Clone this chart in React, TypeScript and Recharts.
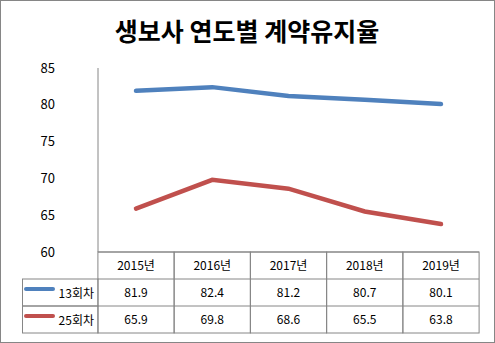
import { LineChart, Line, XAxis, YAxis } from 'recharts';

const years = ['2015년', '2016년', '2017년', '2018년', '2019년'];
const round13 = [81.9, 82.4, 81.2, 80.7, 80.1];
const round25 = [65.9, 69.8, 68.6, 65.5, 63.8];
const yTicks = [60, 65, 70, 75, 80, 85];

const seriesList = [
  { key: 'r13', name: '13회차', color: '#4F81BD', values: round13 },
  { key: 'r25', name: '25회차', color: '#C0504D', values: round25 },
];

const data = years.map((y, i) => ({ year: y, r13: round13[i], r25: round25[i] }));

const FONT = '"Noto Sans CJK KR", "Noto Sans", sans-serif';
const GRID = '#868686';
const ROW_H = 27;

// one table column per category, drawn from the x tick
const TableTick = (props: any) => {
  const { x, y, payload, index } = props;
  const w = 76.2;
  const left = x - w / 2;
  return (
    <g>
      <rect x={left} y={y} width={w} height={ROW_H * 3} fill="none" stroke={GRID} />
      <line x1={left} x2={left + w} y1={y + ROW_H} y2={y + ROW_H} stroke={GRID} />
      <line x1={left} x2={left + w} y1={y + ROW_H * 2} y2={y + ROW_H * 2} stroke={GRID} />
      <text x={x} y={y + 18} textAnchor="middle" fontSize={12} fontFamily={FONT} fill="#000">
        {payload.value}
      </text>
      {seriesList.map((s, r) => (
        <text key={s.key} x={x} y={y + ROW_H * (r + 1) + 18} textAnchor="middle" fontSize={12} fontFamily={FONT} fill="#000">
          {s.values[index].toFixed(1)}
        </text>
      ))}
    </g>
  );
};

const LegendColumn = () => (
  <g>
    {seriesList.map((s, r) => {
      const top = 252 + ROW_H * (r + 1);
      return (
        <g key={s.key}>
          <rect x={22.5} y={top} width={75.5} height={ROW_H} fill="none" stroke={GRID} />
          <line x1={26} x2={53} y1={top + 10} y2={top + 10} stroke={s.color} strokeWidth={4} strokeLinecap="round" />
          <text x={94} y={top + 19} textAnchor="end" fontSize={12} fontFamily={FONT} fill="#000">
            {s.name}
          </text>
        </g>
      );
    })}
  </g>
);

export default function App() {
  return (
    <div style={{ position: 'absolute', left: 0, top: 0, width: 495, height: 343, background: '#fff' }}>
      <LineChart width={495} height={343} data={data} margin={{ top: 68, right: 16, bottom: 0, left: 0 }}>
        <rect x={0.5} y={0.5} width={494} height={342} fill="none" stroke={GRID} />
        <text x={247} y={41} textAnchor="middle" fontSize={25} fontWeight="bold" fontFamily={FONT} fill="#000">
          생보사 연도별 계약유지율
        </text>
        <XAxis
          dataKey="year"
          height={91}
          padding={{ left: 38, right: 38 }}
          axisLine={{ stroke: GRID }}
          tickLine={false}
          tickSize={0}
          tickMargin={0}
          interval={0}
          tick={<TableTick />}
        />
        <YAxis
          width={98}
          domain={[60, 85]}
          ticks={yTicks}
          axisLine={{ stroke: GRID }}
          tickLine={false}
          tickMargin={37}
          tick={{ fontSize: 13, fontFamily: FONT, fill: '#000' }}
        />
        {seriesList.map((s) => (
          <Line
            key={s.key}
            dataKey={s.key}
            name={s.name}
            stroke={s.color}
            strokeWidth={4.5}
            strokeLinecap="round"
            dot={false}
            activeDot={false}
            isAnimationActive={false}
          />
        ))}
        <LegendColumn />
      </LineChart>
    </div>
  );
}
